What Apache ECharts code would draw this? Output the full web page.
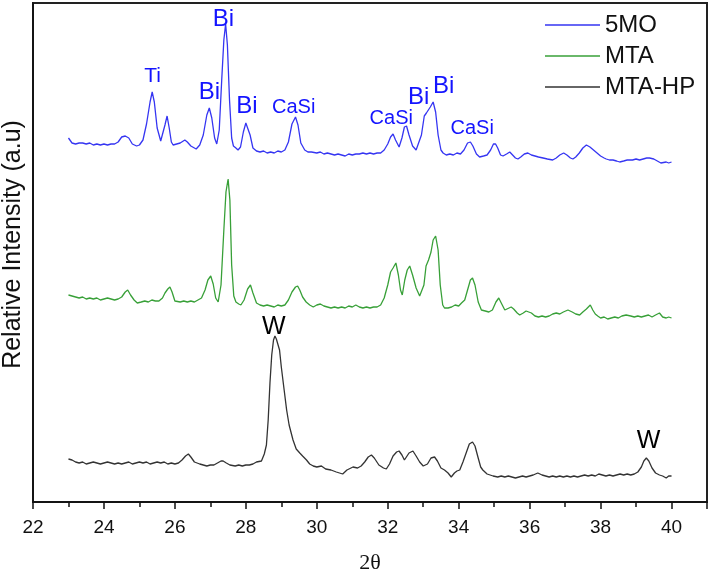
<!DOCTYPE html>
<html>
<head>
<meta charset="utf-8">
<script src="https://cdn.jsdelivr.net/npm/echarts@6/dist/echarts.min.js"></script>
<style>
  html, body { margin: 0; padding: 0; background: #fff; }
  #chart { width: 711px; height: 580px; }
</style>
</head>
<body>
<div id="chart"></div>
<script>
// X axis ticks (2θ)
var xMin = 22, xMax = 41, xStep = 2;

// Series: [2θ, relative intensity (offset traces, a.u.)]
var data5MO = [[23.00,364],[23.05,362],[23.10,359],[23.15,361],[23.20,358],[23.30,359],[23.35,357],[23.40,359],[23.50,358],[23.60,359],[23.70,357],[23.80,358],[23.90,357],[24.00,358],[24.10,357],[24.20,358],[24.30,358],[24.40,360],[24.50,365],[24.60,366],[24.70,364],[24.80,358],[24.85,357],[24.92,356],[25.00,357],[25.10,362],[25.20,378],[25.30,400],[25.36,410],[25.42,400],[25.50,374],[25.60,361],[25.65,362],[25.72,377],[25.78,386],[25.84,374],[25.90,360],[25.95,357],[26.05,358],[26.15,359],[26.28,362],[26.35,360],[26.45,356],[26.60,353],[26.70,357],[26.80,367],[26.90,387],[26.97,394],[27.04,384],[27.12,364],[27.18,358],[27.25,372],[27.32,422],[27.38,462],[27.43,478],[27.48,457],[27.54,402],[27.60,364],[27.65,356],[27.72,354],[27.78,352],[27.85,355],[27.93,370],[28.00,379],[28.05,380],[28.12,367],[28.20,354],[28.30,351],[28.40,350],[28.50,351],[28.60,349],[28.70,350],[28.80,349],[28.90,351],[29.00,350],[29.10,352],[29.20,360],[29.30,378],[29.40,385],[29.47,377],[29.55,359],[29.66,352],[29.75,350],[29.85,350],[30.00,349],[30.10,350],[30.20,348],[30.30,349],[30.40,348],[30.50,347],[30.60,348],[30.70,347],[30.80,346],[30.90,348],[31.00,347],[31.10,348],[31.20,348],[31.30,349],[31.40,348],[31.50,349],[31.60,348],[31.70,349],[31.80,349],[31.90,352],[32.00,358],[32.08,365],[32.15,368],[32.22,362],[32.32,355],[32.40,364],[32.47,375],[32.53,376],[32.60,367],[32.70,356],[32.80,352],[32.85,352],[32.95,367],[33.03,386],[33.09,389],[33.14,387],[33.20,395],[33.28,400],[33.35,390],[33.42,367],[33.50,352],[33.56,349],[33.65,347],[33.75,348],[33.85,347],[33.95,349],[34.05,348],[34.15,352],[34.25,359],[34.33,360],[34.40,356],[34.50,348],[34.59,345],[34.70,346],[34.80,347],[34.90,352],[34.98,358],[35.04,358],[35.10,354],[35.18,347],[35.25,346],[35.35,348],[35.44,350],[35.52,347],[35.60,344],[35.67,343],[35.75,345],[35.85,348],[35.95,349],[36.05,347],[36.15,346],[36.25,345],[36.38,344],[36.50,343],[36.65,342],[36.75,344],[36.85,347],[36.96,349],[37.05,347],[37.15,344],[37.22,343],[37.30,345],[37.40,349],[37.50,354],[37.60,357],[37.70,355],[37.80,352],[37.90,349],[38.00,346],[38.10,344],[38.16,343],[38.25,342],[38.35,342],[38.45,341],[38.54,340],[38.65,341],[38.75,342],[38.90,342],[39.00,343],[39.10,342],[39.20,343],[39.30,344],[39.38,344],[39.50,343],[39.60,341],[39.70,339],[39.75,339],[39.85,340],[39.92,339],[40.00,340]];

var dataMTA = [[23.00,207],[23.05,205],[23.10,206],[23.15,204],[23.20,205],[23.30,204],[23.40,205],[23.50,203],[23.60,204],[23.70,203],[23.80,204],[23.90,202],[24.00,203],[24.10,204],[24.20,203],[24.30,202],[24.40,203],[24.50,205],[24.60,210],[24.67,212],[24.75,207],[24.85,202],[24.94,199],[25.05,200],[25.15,201],[25.25,200],[25.35,202],[25.45,201],[25.55,201],[25.65,204],[25.72,209],[25.80,213],[25.86,215],[25.92,210],[26.00,201],[26.05,199],[26.15,200],[26.25,201],[26.35,200],[26.45,201],[26.55,200],[26.65,202],[26.75,204],[26.85,212],[26.93,222],[27.01,226],[27.08,218],[27.15,204],[27.22,200],[27.30,217],[27.38,272],[27.44,310],[27.50,323],[27.55,302],[27.60,237],[27.66,206],[27.72,200],[27.80,198],[27.86,197],[27.95,202],[28.05,213],[28.13,217],[28.20,209],[28.30,199],[28.40,197],[28.50,196],[28.60,197],[28.70,196],[28.80,195],[28.90,197],[29.00,196],[29.10,197],[29.20,202],[29.30,210],[29.40,215],[29.46,216],[29.52,212],[29.60,205],[29.70,200],[29.80,197],[29.90,195],[30.00,197],[30.10,198],[30.20,196],[30.30,195],[30.40,194],[30.50,195],[30.60,194],[30.70,195],[30.80,194],[30.90,196],[31.00,195],[31.10,197],[31.20,195],[31.30,194],[31.40,195],[31.50,194],[31.60,195],[31.70,195],[31.80,197],[31.90,204],[32.00,217],[32.08,230],[32.15,234],[32.23,239],[32.30,227],[32.36,212],[32.41,207],[32.48,222],[32.55,232],[32.62,236],[32.70,227],[32.80,214],[32.90,206],[32.95,205],[33.02,217],[33.08,236],[33.15,242],[33.22,250],[33.28,262],[33.35,266],[33.42,252],[33.48,217],[33.55,197],[33.60,194],[33.70,194],[33.80,195],[33.90,197],[34.00,196],[34.08,199],[34.17,202],[34.25,212],[34.33,222],[34.39,224],[34.46,217],[34.55,200],[34.64,192],[34.75,191],[34.85,190],[34.95,192],[35.05,200],[35.13,204],[35.20,199],[35.30,192],[35.34,190],[35.42,194],[35.48,195],[35.55,193],[35.65,189],[35.72,187],[35.82,189],[35.90,191],[35.95,192],[36.05,189],[36.15,186],[36.25,185],[36.35,186],[36.45,185],[36.55,186],[36.65,188],[36.75,189],[36.85,188],[36.95,190],[37.08,192],[37.20,190],[37.30,188],[37.41,187],[37.50,190],[37.60,193],[37.71,197],[37.78,192],[37.85,188],[37.92,186],[38.00,184],[38.10,185],[38.20,183],[38.30,184],[38.40,185],[38.50,184],[38.60,186],[38.72,187],[38.85,186],[38.95,185],[39.05,186],[39.15,185],[39.25,186],[39.35,187],[39.45,185],[39.55,187],[39.66,189],[39.75,185],[39.85,184],[39.92,185],[40.00,184]];

var dataMTAHP = [[23.00,43],[23.05,41],[23.10,42],[23.20,40],[23.30,39],[23.40,40],[23.50,38],[23.60,39],[23.70,40],[23.80,39],[23.90,38],[24.00,39],[24.10,40],[24.20,39],[24.30,38],[24.40,39],[24.50,38],[24.60,39],[24.70,40],[24.80,38],[24.90,39],[25.00,40],[25.10,39],[25.20,40],[25.30,38],[25.40,39],[25.50,40],[25.60,39],[25.70,40],[25.80,38],[25.90,39],[26.00,38],[26.10,39],[26.20,42],[26.30,46],[26.38,48],[26.45,45],[26.55,40],[26.70,38],[26.80,37],[26.90,36],[27.00,37],[27.10,37],[27.20,39],[27.30,41],[27.36,41],[27.45,39],[27.55,37],[27.70,36],[27.80,37],[27.90,36],[28.00,37],[28.10,37],[28.20,38],[28.30,40],[28.44,41],[28.52,48],[28.58,57],[28.63,82],[28.68,119],[28.73,147],[28.78,162],[28.82,166],[28.86,163],[28.90,165],[28.95,152],[29.00,135],[29.08,112],[29.15,92],[29.22,77],[29.33,62],[29.42,53],[29.52,49],[29.60,46],[29.71,42],[29.80,38],[29.90,36],[30.00,35],[30.13,36],[30.25,33],[30.40,32],[30.55,30],[30.73,28],[30.85,32],[31.02,35],[31.15,34],[31.25,36],[31.35,40],[31.45,45],[31.54,47],[31.62,44],[31.75,37],[31.88,34],[31.96,33],[32.05,38],[32.15,46],[32.25,50],[32.32,51],[32.40,47],[32.47,42],[32.51,41],[32.60,49],[32.71,51],[32.80,46],[32.90,40],[33.00,36],[33.04,35],[33.12,38],[33.22,44],[33.32,45],[33.40,41],[33.50,34],[33.60,32],[33.70,29],[33.79,25],[33.88,29],[33.95,31],[34.03,32],[34.12,40],[34.22,50],[34.30,58],[34.39,60],[34.46,56],[34.55,44],[34.62,35],[34.68,32],[34.80,28],[34.97,26],[35.10,25],[35.20,26],[35.30,25],[35.40,26],[35.50,25],[35.60,24],[35.70,25],[35.80,26],[35.90,25],[36.00,26],[36.10,27],[36.23,29],[36.35,27],[36.45,26],[36.55,25],[36.65,26],[36.75,25],[36.85,26],[36.95,25],[37.05,26],[37.15,25],[37.25,26],[37.35,25],[37.45,26],[37.55,27],[37.65,26],[37.75,27],[37.85,26],[37.95,28],[38.05,27],[38.15,26],[38.25,27],[38.35,26],[38.45,27],[38.55,28],[38.65,27],[38.75,28],[38.85,27],[38.95,28],[39.05,30],[39.15,35],[39.22,41],[39.29,44],[39.36,41],[39.45,34],[39.55,29],[39.66,27],[39.75,26],[39.85,24],[39.92,26],[40.00,26]];

// Peak annotations: [2θ, intensity, text]
var peaks5MO = [[25.37,426,'Ti'],[27.37,483,'Bi'],[26.97,410,'Bi'],[28.03,396,'Bi'],[29.35,395,'CaSi'],[32.10,384,'CaSi'],[32.87,405,'Bi'],[33.58,416,'Bi'],[34.38,374,'CaSi']];
var peaksMTAHP = [[28.79,175,'W'],[39.35,61,'W']];

var FONT = '"Liberation Sans", Arial, sans-serif';
var labelSize = { 'Ti': 21, 'Bi': 24, 'CaSi': 20, 'W': 25 };

function toLabelData(arr) {
  return arr.map(function (p) {
    return { value: [p[0], p[1]], name: p[2], label: { fontSize: labelSize[p[2]] } };
  });
}

function labelSeries(name, arr, color) {
  return {
    name: name, type: 'scatter', data: toLabelData(arr), symbolSize: 1, silent: true, z: 5,
    itemStyle: { color: 'rgba(0,0,0,0)' },
    label: { show: true, position: 'inside', formatter: '{b}', color: color, opacity: 1,
             textBorderWidth: 0, textBorderColor: 'transparent', fontFamily: FONT },
    emphasis: { disabled: true }
  };
}

var chart = echarts.init(document.getElementById('chart'), null, { renderer: 'canvas' });
chart.setOption({
  animation: false,
  backgroundColor: '#fff',
  grid: { left: 33, right: 4, top: 3, bottom: 78, outerBoundsMode: 'none', containLabel: false,
          show: true, borderColor: '#222', borderWidth: 2, backgroundColor: 'transparent' },
  legend: {
    data: ['5MO', 'MTA', 'MTA-HP'],
    orient: 'vertical',
    left: 545, top: 13,
    icon: 'rect',
    itemWidth: 55, itemHeight: 1.6, itemGap: 7,
    padding: 0,
    textStyle: { fontSize: 24, color: '#111', fontFamily: FONT }
  },
  xAxis: {
    type: 'value', min: xMin, max: xMax, interval: xStep,
    axisLine: { show: true, lineStyle: { color: '#111', width: 1.5 } },
    axisTick: { show: true, inside: false, length: 7, lineStyle: { color: '#111', width: 1.5 } },
    minorTick: { show: true, splitNumber: 2, length: 5, lineStyle: { color: '#111', width: 1.5 } },
    splitLine: { show: false },
    axisLabel: { fontSize: 19, color: '#111', margin: 16, fontFamily: FONT, showMaxLabel: false },
    name: '2θ', nameLocation: 'middle', nameGap: 50,
    nameTextStyle: { fontSize: 22, color: '#111', fontFamily: '"Liberation Serif", "Times New Roman", serif' }
  },
  yAxis: {
    type: 'value', min: 0, max: 499,
    axisLine: { show: true, lineStyle: { color: '#111', width: 1.5 } },
    axisTick: { show: false }, axisLabel: { show: false }, splitLine: { show: false },
    name: 'Relative Intensity (a.u)', nameLocation: 'middle', nameGap: 7, nameRotate: 90,
    nameTextStyle: { fontSize: 25, color: '#111', fontFamily: FONT, padding: [0, 0, 0, 16] }
  },
  series: [
    { name: '5MO', type: 'line', data: data5MO, symbol: 'none', color: '#3535f2', lineStyle: { width: 1.3 } },
    { name: 'MTA', type: 'line', data: dataMTA, symbol: 'none', color: '#38a038', lineStyle: { width: 1.3 } },
    { name: 'MTA-HP', type: 'line', data: dataMTAHP, symbol: 'none', color: '#333333', lineStyle: { width: 1.3 } },
    labelSeries('peaks5MO', peaks5MO, '#1414ff'),
    labelSeries('peaksMTAHP', peaksMTAHP, '#000000')
  ]
});
</script>
</body>
</html>
